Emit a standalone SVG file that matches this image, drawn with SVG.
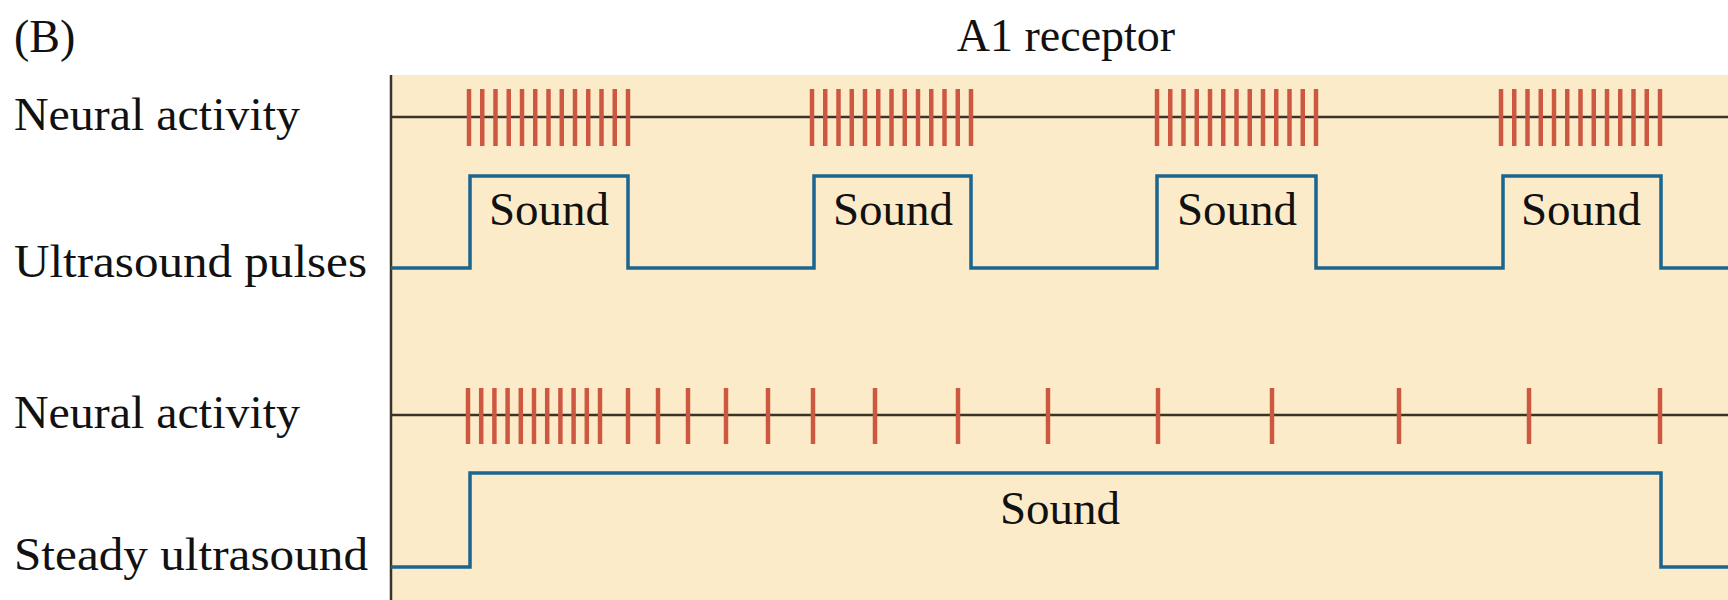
<svg xmlns="http://www.w3.org/2000/svg" width="1728" height="600" viewBox="0 0 1728 600">
  <style>
    .lbl { font-family: "Liberation Serif", "Times New Roman", serif; font-size: 46px; fill: #111; }
    .snd { font-family: "Liberation Serif", "Times New Roman", serif; font-size: 47px; fill: #111; text-anchor: middle; }
    .axis { stroke: #3a3428; stroke-width: 2.5; fill: none; }
    .spike { stroke: #CD5842; stroke-width: 4.5; }
    .sig { stroke: #1A6690; stroke-width: 3.5; fill: none; stroke-linejoin: miter; }
  </style>
  <defs>
    <line id="sp1" class="spike" x1="0" y1="89" x2="0" y2="146"/>
    <line id="sp2" class="spike" x1="0" y1="388" x2="0" y2="444"/>
  </defs>
  <rect x="0" y="0" width="1728" height="600" fill="#ffffff"/>
  <g id="panel">
    <rect x="391" y="75" width="1337" height="525" fill="#FCEBC9"/>
    <line class="axis" x1="391" y1="75" x2="391" y2="600"/>
  </g>
  <g id="titles">
    <text class="lbl" x="14" y="52">(B)</text>
    <text class="lbl" x="1066" y="51" text-anchor="middle">A1 receptor</text>
  </g>
  <g id="row-labels">
    <text class="lbl" x="14" y="130" textLength="286" lengthAdjust="spacingAndGlyphs">Neural activity</text>
    <text class="lbl" x="14" y="277" textLength="353" lengthAdjust="spacingAndGlyphs">Ultrasound pulses</text>
    <text class="lbl" x="14" y="428" textLength="286" lengthAdjust="spacingAndGlyphs">Neural activity</text>
    <text class="lbl" x="14" y="570" textLength="354" lengthAdjust="spacingAndGlyphs">Steady ultrasound</text>
  </g>
  <g id="neural-activity-1">
    <line class="axis" x1="391" y1="117" x2="1728" y2="117"/>
    <g id="burst-1">
      <use href="#sp1" x="469"/><use href="#sp1" x="482.25"/><use href="#sp1" x="495.5"/><use href="#sp1" x="508.75"/><use href="#sp1" x="522"/><use href="#sp1" x="535.25"/><use href="#sp1" x="548.5"/><use href="#sp1" x="561.75"/><use href="#sp1" x="575"/><use href="#sp1" x="588.25"/><use href="#sp1" x="601.5"/><use href="#sp1" x="614.75"/><use href="#sp1" x="628"/>
    </g>
    <g id="burst-2">
      <use href="#sp1" x="812"/><use href="#sp1" x="825.25"/><use href="#sp1" x="838.5"/><use href="#sp1" x="851.75"/><use href="#sp1" x="865"/><use href="#sp1" x="878.25"/><use href="#sp1" x="891.5"/><use href="#sp1" x="904.75"/><use href="#sp1" x="918"/><use href="#sp1" x="931.25"/><use href="#sp1" x="944.5"/><use href="#sp1" x="957.75"/><use href="#sp1" x="971"/>
    </g>
    <g id="burst-3">
      <use href="#sp1" x="1157"/><use href="#sp1" x="1170.25"/><use href="#sp1" x="1183.5"/><use href="#sp1" x="1196.75"/><use href="#sp1" x="1210"/><use href="#sp1" x="1223.25"/><use href="#sp1" x="1236.5"/><use href="#sp1" x="1249.75"/><use href="#sp1" x="1263"/><use href="#sp1" x="1276.25"/><use href="#sp1" x="1289.5"/><use href="#sp1" x="1302.75"/><use href="#sp1" x="1316"/>
    </g>
    <g id="burst-4">
      <use href="#sp1" x="1501"/><use href="#sp1" x="1514.25"/><use href="#sp1" x="1527.5"/><use href="#sp1" x="1540.75"/><use href="#sp1" x="1554"/><use href="#sp1" x="1567.25"/><use href="#sp1" x="1580.5"/><use href="#sp1" x="1593.75"/><use href="#sp1" x="1607"/><use href="#sp1" x="1620.25"/><use href="#sp1" x="1633.5"/><use href="#sp1" x="1646.75"/><use href="#sp1" x="1660"/>
    </g>
  </g>
  <g id="ultrasound-pulses">
    <path class="sig" d="M391 268 H470 V176 H628 V268 H814 V176 H971 V268 H1157 V176 H1316 V268 H1503 V176 H1661 V268 H1728"/>
    <text class="snd" x="549" y="225">Sound</text>
    <text class="snd" x="893" y="225">Sound</text>
    <text class="snd" x="1237" y="225">Sound</text>
    <text class="snd" x="1581" y="225">Sound</text>
  </g>
  <g id="neural-activity-2">
    <line class="axis" x1="391" y1="415" x2="1728" y2="415"/>
    <use href="#sp2" x="468"/><use href="#sp2" x="481.2"/><use href="#sp2" x="494.4"/><use href="#sp2" x="507.6"/><use href="#sp2" x="520.8"/><use href="#sp2" x="534"/><use href="#sp2" x="547.2"/><use href="#sp2" x="560.4"/><use href="#sp2" x="573.6"/><use href="#sp2" x="586.8"/><use href="#sp2" x="600"/>
    <use href="#sp2" x="628"/><use href="#sp2" x="658"/><use href="#sp2" x="688"/><use href="#sp2" x="726"/><use href="#sp2" x="768"/><use href="#sp2" x="813"/><use href="#sp2" x="875"/><use href="#sp2" x="958"/><use href="#sp2" x="1048"/><use href="#sp2" x="1158"/><use href="#sp2" x="1272"/><use href="#sp2" x="1399"/><use href="#sp2" x="1529"/><use href="#sp2" x="1660"/>
  </g>
  <g id="steady-ultrasound">
    <path class="sig" d="M391 567 H470 V473 H1661 V567 H1728"/>
    <text class="snd" x="1060" y="524">Sound</text>
  </g>
</svg>
